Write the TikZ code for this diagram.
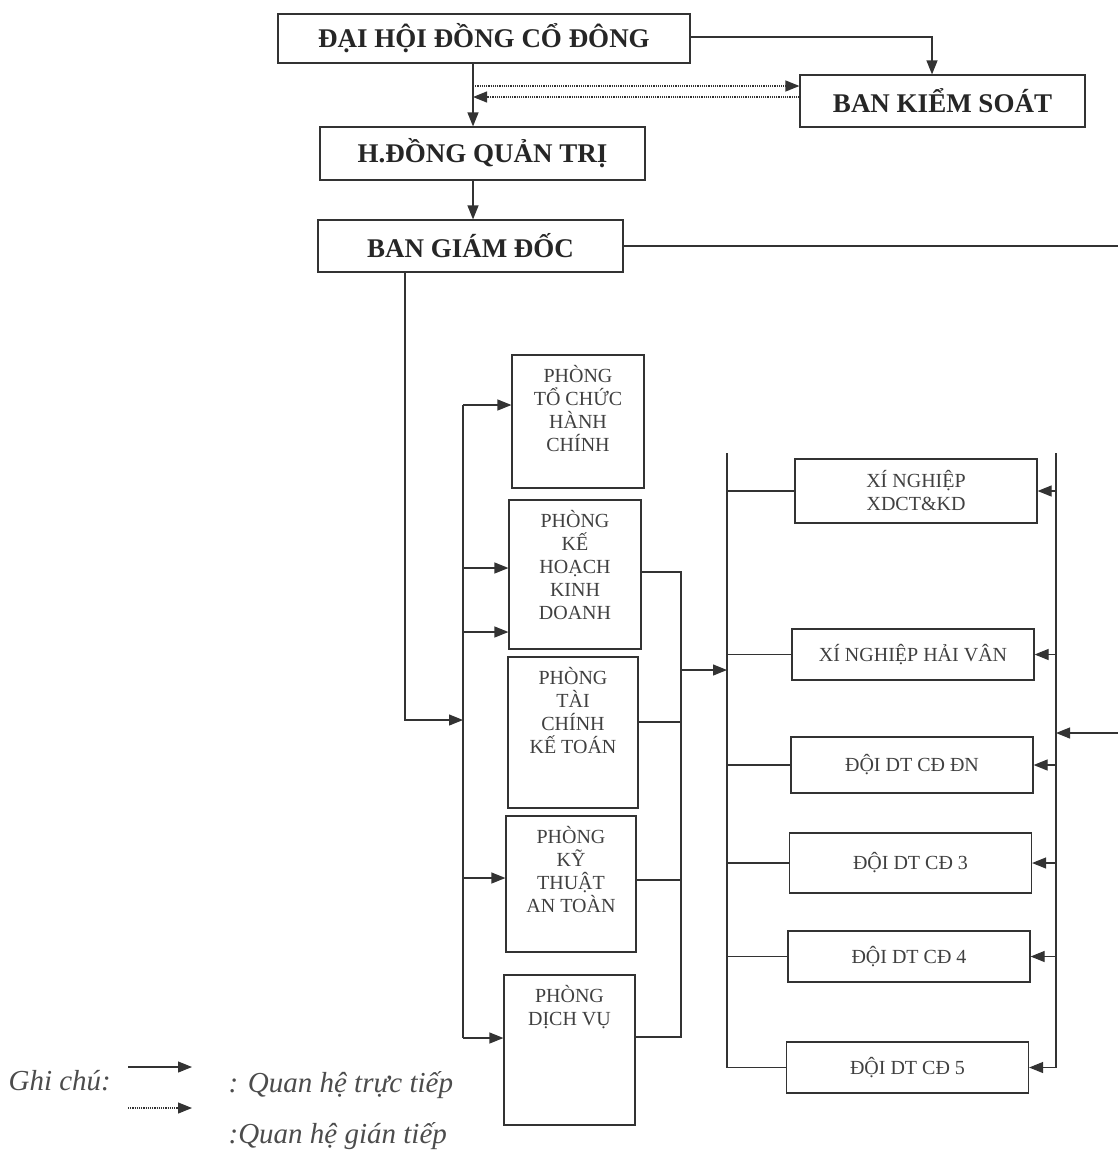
\documentclass[tikz,border=0pt]{standalone}
\usepackage{fontspec}
\setmainfont{Liberation Serif}
\usetikzlibrary{arrows.meta,positioning}

\begin{document}
\begin{tikzpicture}[
    x=1pt, y=-1pt,
    line width=1.2pt, draw=black!80,
    head/.style={draw, line width=1.2pt, font=\fontsize{27}{30}\selectfont\bfseries, text=black!85},
    dept/.style={draw, line width=1.2pt},
    depttext/.style={inner sep=0pt, align=center, font=\fontsize{20}{23}\selectfont, text=black!75},
    unit/.style={draw, line width=1.2pt, align=center, minimum width=242pt, font=\fontsize{20}{23}\selectfont, text=black!75},
    legend/.style={inner sep=0pt, font=\fontsize{29}{32}\selectfont\itshape, text=black!70},
    arrow/.style={-{Triangle[length=14pt,width=11pt]}},
    dotarrow/.style={arrow, densely dotted}
]
\useasboundingbox (0,0) rectangle (1117,1151);

% top levels
\node[head, minimum width=412pt, minimum height=49pt] (dhdcd) at (484,38.5) {ĐẠI HỘI ĐỒNG CỔ ĐÔNG};
\node[head, minimum width=285pt, minimum height=52pt] (bks) at (942.5,101) {BAN KIỂM SOÁT};
\node[head, minimum width=325pt, minimum height=53pt] (hdqt) at (482.5,153.5) {H.ĐỒNG QUẢN TRỊ};
\node[head, minimum width=305pt, minimum height=52pt] (bgd) at (470.5,246) {BAN GIÁM ĐỐC};

% phong ban
\node[dept, minimum width=132pt, minimum height=133pt] (tchc) at (578,421.5) {};
\node[depttext, below=10pt of tchc.north] (tchc-t) {PHÒNG\\TỔ CHỨC\\HÀNH\\CHÍNH};
\node[dept, minimum width=132pt, minimum height=149pt] (khkd) at (575,574.5) {};
\node[depttext, below=10pt of khkd.north] (khkd-t) {PHÒNG\\KẾ\\HOẠCH\\KINH\\DOANH};
\node[dept, minimum width=130pt, minimum height=151pt] (tckt) at (573,732.5) {};
\node[depttext, below=10pt of tckt.north] (tckt-t) {PHÒNG\\TÀI\\CHÍNH\\KẾ TOÁN};
\node[dept, minimum width=130pt, minimum height=136pt] (ktat) at (571,884) {};
\node[depttext, below=10pt of ktat.north] (ktat-t) {PHÒNG\\KỸ\\THUẬT\\AN TOÀN};
\node[dept, minimum width=131pt, minimum height=150pt] (dv) at (569.5,1050) {};
\node[depttext, below=10pt of dv.north] (dv-t) {PHÒNG\\DỊCH VỤ};

% don vi
\node[unit, minimum height=64pt] (xn1) at (916,491) {XÍ NGHIỆP\\XDCT\&KD};
\node[unit, minimum height=51pt] (xn2) at (913,654.5) {XÍ NGHIỆP HẢI VÂN};
\node[unit, minimum height=56pt] (dn) at (912,765) {ĐỘI DT CĐ ĐN};
\node[unit, minimum height=60pt] (d3) at (910.5,863) {ĐỘI DT CĐ 3};
\node[unit, minimum height=51pt] (d4) at (909,956.5) {ĐỘI DT CĐ 4};
\node[unit, minimum height=51pt] (d5) at (907.5,1067.5) {ĐỘI DT CĐ 5};

% top links
\draw[arrow] (dhdcd.east |- 0,37) -| (bks.north -| 932,0);
\draw[arrow] (dhdcd.south -| 473,0) -- (hdqt.north -| 473,0);
\draw[dotarrow] (473,86) -- (bks.west |- 0,86);
\draw[dotarrow] (bks.west |- 0,97) -- (473,97);
\draw[arrow] (hdqt.south -| 473,0) -- (bgd.north -| 473,0);

% left bus
\draw[arrow] (bgd.south -| 405,0) |- (463,720);
\draw (463,405) -- (463,1038);
\draw[arrow] (463,405) -- (tchc.west |- 0,405);
\draw[arrow] (463,568) -- (khkd.west |- 0,568);
\draw[arrow] (463,632) -- (khkd.west |- 0,632);
\draw[arrow] (463,878) -- (ktat.west |- 0,878);
\draw[arrow] (463,1038) -- (dv.west |- 0,1038);

% middle bus
\draw (khkd.east |- 0,572) -| (681,1037) -- (dv.east |- 0,1037);
\draw (tckt.east |- 0,722) -- (681,722);
\draw (ktat.east |- 0,880) -- (681,880);
\draw[arrow] (681,670) -- (727,670);

% unit bus
\draw (727,453) |- (d5.west);
\draw (xn1.west -| 727,0) -- (xn1.west);
\draw (xn2.west -| 727,0) -- (xn2.west);
\draw (dn.west -| 727,0) -- (dn.west);
\draw (d3.west -| 727,0) -- (d3.west);
\draw (d4.west -| 727,0) -- (d4.west);

% right bus
\draw[arrow] (bgd.east) -- (1121,246) |- (1056,733);
\draw[arrow] (1056,453) |- (d5.east);
\draw[arrow] (xn1.east -| 1056,0) -- (xn1.east);
\draw[arrow] (xn2.east -| 1056,0) -- (xn2.east);
\draw[arrow] (dn.east -| 1056,0) -- (dn.east);
\draw[arrow] (d3.east -| 1056,0) -- (d3.east);
\draw[arrow] (d4.east -| 1056,0) -- (d4.east);

% ghi chu
\node[legend, anchor=base west] (ghichu) at (8,1090) {Ghi chú:};
\draw[arrow] (128,1067) -- (192,1067);
\draw[dotarrow] (128,1108) -- (192,1108);
\node[legend, anchor=base west] (truc) at (228,1092) {: Quan hệ trực tiếp};
\node[legend, anchor=base west] (gian) at (228,1143) {:Quan hệ gián tiếp};

\end{tikzpicture}
\end{document}
